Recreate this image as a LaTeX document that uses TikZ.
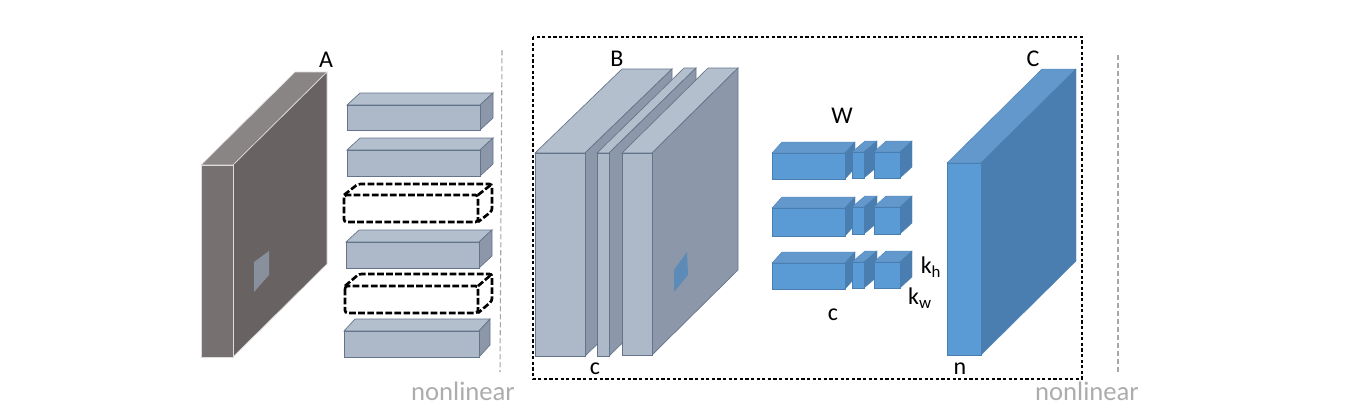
\documentclass[tikz,border=0pt]{standalone}
\usepackage{fontspec}
\setmainfont{Carlito}
\usepackage{xcolor}

\definecolor{greyfr}{HTML}{777071}
\definecolor{greysd}{HTML}{696262}
\definecolor{greytp}{HTML}{8A8585}
\definecolor{steelfr}{HTML}{ADB9C9}
\definecolor{steelsd}{HTML}{8C98A9}
\definecolor{steeltp}{HTML}{B4BFCD}
\definecolor{steelln}{HTML}{64748A}
\definecolor{bluefr}{HTML}{5B9BD5}
\definecolor{bluesd}{HTML}{4A7EB0}
\definecolor{bluetp}{HTML}{6398CC}

% front rectangle x1,y1,x2,y2 and depth dx,dy
\newcommand{\slab}[7]{
  \draw[#1face, fill=#1tp] (#2,#3) -- ++(#6,#7) -- ++(#4-#2,0) -- (#4,#3) -- cycle;
  \draw[#1face, fill=#1sd] (#4,#3) -- ++(#6,#7) -- ++(0,#5-#3) -- (#4,#5) -- cycle;
  \draw[#1face, fill=#1fr] (#2,#3) rectangle (#4,#5);
}
\newcommand{\hollowbar}[6]{
  \draw[hollow] (#1,#2) rectangle (#3,#4);
  \draw[hollow] (#1,#2) -- ++(#5,#6) -- ++(#3-#1,0) -- ++(0,#4-#2) -- (#3,#4);
  \draw[hollow] (#3,#2) -- ++(#5,#6);
}

\begin{document}
\begin{tikzpicture}[
  x=0.75pt, y=-0.75pt,
  greyface/.style={draw=white!75!greyfr, line width=0.5pt},
  steelface/.style={draw=steelln, line width=0.5pt},
  blueface/.style={draw=bluesd, line width=0.3pt},
  hollow/.style={draw=black, line width=2pt, dash pattern=on 5pt off 1.8pt, rounded corners=2pt},
  sep/.style={draw=gray!70, line width=0.8pt, dash pattern=on 4pt off 2pt},
  frame/.style={draw=black, line width=1pt, dash pattern=on 2.4pt off 1.8pt},
  lab/.style={font=\fontsize{18}{20}\selectfont, inner sep=0pt, text=black},
  nonlin/.style={font=\fontsize{20}{22}\selectfont, inner sep=0pt, text=gray!65}
]
  \useasboundingbox (0,0) rectangle (1357,415);

  % Input slab
  \slab{grey}{201}{165}{233}{357}{94}{-93}
  \fill[steelsd!80!greyfr] (254,262) -- (269,251) -- (269,275) -- (254,292) -- cycle;

  % Bars
  \foreach \xa/\ya/\xb/\yb/\dx/\dy in {347/105/480/130/13/-12, 347/150/480/176/13/-12,
      346/242/479/268/13/-12, 344/331/479/357/11/-12}{
    \slab{steel}{\xa}{\ya}{\xb}{\yb}{\dx}{\dy}
  }
  \hollowbar{344}{195}{478}{222}{14}{-11}
  \hollowbar{345}{286}{478}{313}{14}{-12}
  \draw[sep] (502,50) -- (500,372);

  % Middle stack
  \slab{steel}{535}{153}{585}{356}{87}{-84}
  \slab{steel}{597}{153}{609}{356}{87}{-85}
  \slab{steel}{622}{153}{652}{355}{86}{-85}
  \fill[bluesd!90!white] (674,270) -- (687,252) -- (688,275) -- (674,292) -- cycle;

  % Blue filters
  \foreach \ya/\yb/\yc/\yd in {153/179/152/178, 208/236/207/234, 263/289/262/288}{
    \slab{blue}{772}{\ya}{845}{\yb}{10}{-11}
    \slab{blue}{852}{\yc}{864}{\yd}{13}{-11}
    \slab{blue}{874}{\yc}{900}{\yd}{12}{-11}
  }

  % Output slab
  \slab{blue}{947}{163}{981}{355}{95}{-94}
  \draw[sep] (1118,55) -- (1118,373);

  % Dotted frame
  \draw[frame] (533,37) rectangle (1082,379);

  % Labels
  \node[lab] (labA) at (326,60) {A};
  \node[lab] (labB) at (617,59) {B};
  \node[lab] (labc) at (595,369) {c};
  \node[lab] (labW) at (842,116) {W};
  \node[lab] (labcw) at (833,315) {c};
  \node[lab] (labkh) at (931,267) {k\textsubscript{h}};
  \node[lab] (labkw) at (920,298) {k\textsubscript{w}};
  \node[lab] (labC) at (1033,59) {C};
  \node[lab] (labn) at (960,369) {n};
  \node[nonlin] (nonA) at (463,391) {nonlinear};
  \node[nonlin] (nonB) at (1087,391) {nonlinear};
\end{tikzpicture}
\end{document}
